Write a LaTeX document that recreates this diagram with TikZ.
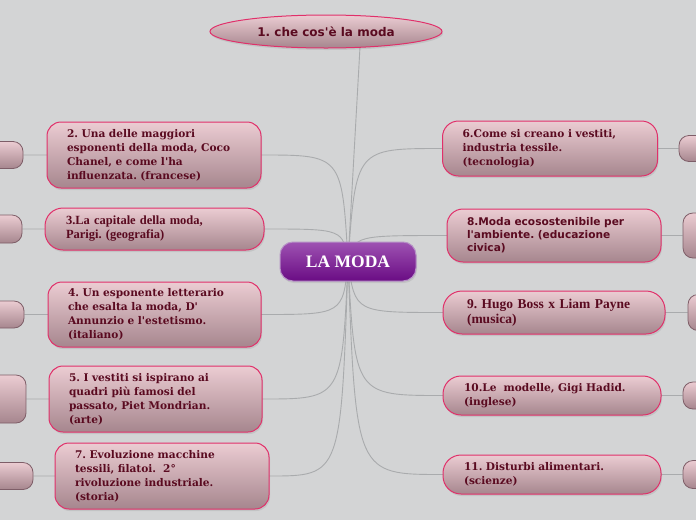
\documentclass[tikz,border=0pt]{standalone}
\usepackage{fontspec}
\setmainfont{DejaVu Serif}
\newfontfamily\geo{DejaVu Serif}
\newfontfamily\tms{Liberation Serif}
\newfontfamily\verd{DejaVu Sans}
\usetikzlibrary{shadows,calc,shapes.geometric}
\frenchspacing
\definecolor{bg}{HTML}{D3D4D5}
\definecolor{ptop}{HTML}{EBCCD2}
\definecolor{pbot}{HTML}{A6868E}
\definecolor{pbord}{HTML}{E0306A}
\definecolor{ptext}{HTML}{5A0A20}
\definecolor{mtop}{HTML}{9E52B2}
\definecolor{mbot}{HTML}{6A0C84}
\definecolor{mbord}{HTML}{B690C6}
\definecolor{connc}{HTML}{A9ABAD}
\definecolor{ebord}{HTML}{7E5E68}
\pgfdeclarelayer{background}
\pgfsetlayers{background,main}
\tikzset{
 topic/.style={draw=pbord, line width=1pt, top color=ptop, bottom color=pbot,
   rounded corners=14pt, text=ptext, align=left, inner xsep=20pt, inner ysep=0pt,
   drop shadow={opacity=0.2, shadow xshift=1pt, shadow yshift=-2pt}},
 edgebox/.style={draw=ebord, line width=0.8pt, top color=ptop, bottom color=pbot, rounded corners=10pt},
 connline/.style={draw=connc, line width=0.9pt},
 geofont/.style={font=\geo\bfseries\fontsize{10.6}{14}\selectfont},
 tmsfont/.style={font=\tms\bfseries\fontsize{12.5}{14}\selectfont},
 verdfont/.style={font=\verd\bfseries\fontsize{10.6}{13}\selectfont},
}
\begin{document}
\begin{tikzpicture}[x=1pt,y=-1pt]
\useasboundingbox (0,0) rectangle (696,520);
\begin{pgfonlayer}{background}
\fill[bg] (0,0) rectangle (696,520);
\end{pgfonlayer}

% central node
\node[draw=mbord, line width=1pt, top color=mtop, bottom color=mbot, rounded corners=13pt,
  minimum width=136, minimum height=39, text=white, font=\tms\bfseries\fontsize{17.5}{20}\selectfont,
  drop shadow={opacity=0.2, shadow xshift=1pt, shadow yshift=-2pt}] (mod) at (348,261.5) {LA MODA};

% top ellipse
\node[ellipse, draw=pbord, line width=1pt, top color=ptop, bottom color=pbot, text=ptext,
  minimum width=232, minimum height=33, inner sep=0pt, font=\verd\bfseries\fontsize{12}{14}\selectfont,
  drop shadow={opacity=0.2, shadow xshift=1pt, shadow yshift=-2pt}] (n1) at (326,31.5) {1. che cos'è la moda};
\coordinate (topend) at (360,47);

% left topics
\node[topic, geofont, minimum width=214, minimum height=66, text width=174] (n2) at (154,155)
 {2. Una delle maggiori\\esponenti della moda, Coco\\Chanel, e come l'ha\\influenzata. (francese)};
\node[topic, tmsfont, minimum width=219, minimum height=42, text width=177, inner xsep=21pt, rounded corners=18pt] (n3) at (154.5,229)
 {3.La capitale della moda,\\Parigi. (geografia)};
\node[topic, geofont, minimum width=213, minimum height=65, text width=173] (n4) at (154.5,314.5)
 {4. Un esponente letterario\\che esalta la moda, D'\\Annunzio e l'estetismo.\\(italiano)};
\node[topic, geofont, minimum width=213, minimum height=66, text width=173] (n5) at (155.5,399)
 {5. I vestiti si ispirano ai\\quadri più famosi del\\passato, Piet Mondrian.\\(arte)};
\node[topic, geofont, minimum width=214, minimum height=66, text width=174] (n7) at (162,476)
 {7. Evoluzione macchine\\tessili, filatoi.\ \ 2°\\rivoluzione industriale.\\(storia)};

% right topics
\node[topic, geofont, minimum width=214, minimum height=55, text width=175, rounded corners=16pt] (n6) at (550,148.5)
 {6.Come si creano i vestiti,\\industria tessile.\\(tecnologia)};
\node[topic, verdfont, minimum width=214, minimum height=53, text width=174, rounded corners=16pt] (n8) at (554,235.5)
 {8.Moda ecosostenibile per\\l'ambiente. (educazione\\civica)};
\node[topic, font=\tms\bfseries\fontsize{13.5}{15.5}\selectfont, minimum width=222, minimum height=43, text width=174, inner xsep=24pt, rounded corners=19pt] (n9) at (554,312.5)
 {9. Hugo Boss x Liam Payne\\(musica)};
\node[topic, geofont, minimum width=218, minimum height=39, text width=176, inner xsep=21pt, rounded corners=18pt] (n10) at (552,395.5)
 {10.Le\ \ modelle, Gigi Hadid.\\(inglese)};
\node[topic, geofont, minimum width=218, minimum height=39, text width=176, inner xsep=21pt, rounded corners=18pt] (n11) at (552,474.5)
 {11. Disturbi alimentari.\\(scienze)};

% cut-off nodes at the edges
\node[edgebox, minimum width=43, minimum height=27] (e2) at (1.5,155) {};
\node[edgebox, minimum width=42, minimum height=28] (e3) at (1,229) {};
\node[edgebox, minimum width=44, minimum height=27] (e4) at (2,314.5) {};
\node[edgebox, minimum width=46, minimum height=48] (e5) at (3,399) {};
\node[edgebox, minimum width=50, minimum height=27] (e7) at (8,476) {};
\node[edgebox, minimum width=50, minimum height=26] (e6) at (704,148.5) {};
\node[edgebox, minimum width=50, minimum height=45] (e8) at (708,235.5) {};
\node[edgebox, minimum width=50, minimum height=36] (e9) at (713,312.5) {};
\node[edgebox, minimum width=50, minimum height=27] (e10) at (708,395.5) {};
\node[edgebox, minimum width=50, minimum height=28] (e11) at (708,474.5) {};

% connectors
\begin{pgfonlayer}{background}
\draw[connline] (mod.center) -- (topend);
\draw[connline] (mod.center) .. controls (342,155) .. (n2.east) -- (e2.east);
\draw[connline] (mod.center) .. controls (343,229) .. (n3.east) -- (e3.east);
\draw[connline] (mod.center) .. controls (343,314.5) .. (n4.east) -- (e4.east);
\draw[connline] (mod.center) .. controls (342,399) .. (n5.east) -- (e5.east);
\draw[connline] (mod.center) .. controls (341,476) .. (n7.east) -- (e7.east);
\draw[connline] (mod.center) .. controls (356,148.5) .. (n6.west) -- (e6.west);
\draw[connline] (mod.center) .. controls (355,235.5) .. (n8.west) -- (e8.west);
\draw[connline] (mod.center) .. controls (355,312.5) .. (n9.west) -- (e9.west);
\draw[connline] (mod.center) .. controls (355,395.5) .. (n10.west) -- (e10.west);
\draw[connline] (mod.center) .. controls (356,474.5) .. (n11.west) -- (e11.west);
\end{pgfonlayer}
\end{tikzpicture}
\end{document}
